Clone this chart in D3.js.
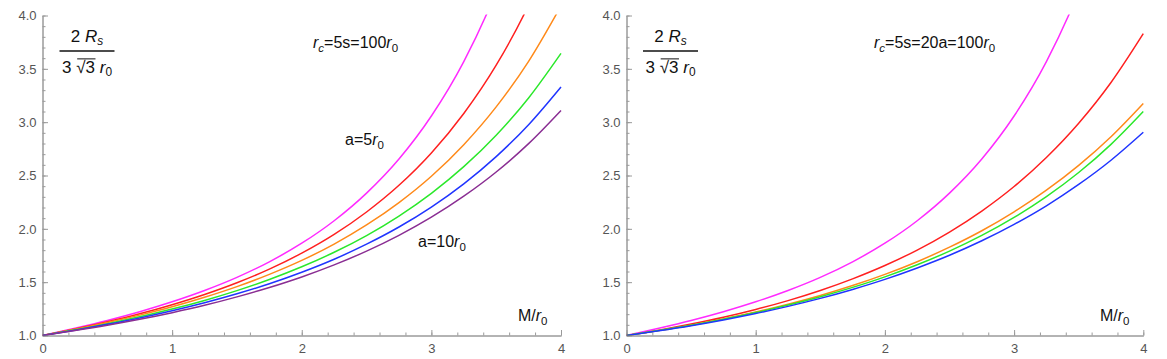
<!DOCTYPE html>
<html>
<head>
<meta charset="utf-8">
<script src="https://cdn.jsdelivr.net/npm/d3@7"></script>
<style>
  html, body { margin: 0; padding: 0; background: #fff; }
  svg { display: block; }
  text { font-family: Arial, "Liberation Sans", sans-serif; }
</style>
</head>
<body>
<svg id="chart" width="1167" height="359"></svg>
<script>
// ---------- data ----------
const massValues = [0, 0.25, 0.5, 0.75, 1, 1.25, 1.5, 1.75, 2, 2.25, 2.5, 2.75, 3, 3.25, 3.5, 3.75, 4];

// left panel: r_c = 5s = 100 r0, a from 5 r0 (magenta) to 10 r0 (purple)
const leftMagenta = [1.000, 1.068, 1.141, 1.223, 1.316, 1.422, 1.545, 1.691, 1.865, 2.076, 2.335, 2.655, 3.058, 3.568, 4.225, 5.080, 6.210];
const leftRed     = [1.000, 1.061, 1.128, 1.203, 1.288, 1.384, 1.494, 1.622, 1.772, 1.948, 2.158, 2.408, 2.711, 3.081, 3.534, 4.097, 4.800];
const leftOrange  = [1.000, 1.058, 1.121, 1.191, 1.269, 1.358, 1.458, 1.573, 1.704, 1.857, 2.036, 2.246, 2.493, 2.789, 3.143, 3.570, 4.090];
const leftGreen   = [1.000, 1.053, 1.111, 1.176, 1.248, 1.329, 1.421, 1.525, 1.644, 1.780, 1.937, 2.120, 2.333, 2.583, 2.878, 3.227, 3.645];
const leftBlue    = [1.000, 1.050, 1.105, 1.165, 1.232, 1.307, 1.391, 1.485, 1.593, 1.715, 1.856, 2.017, 2.204, 2.422, 2.677, 2.976, 3.330];
const leftPurple  = [1.000, 1.046, 1.096, 1.152, 1.214, 1.283, 1.362, 1.450, 1.549, 1.662, 1.791, 1.939, 2.109, 2.306, 2.533, 2.799, 3.110];

// right panel: r_c = 5s = 20a = 100 r0
const rightMagenta = [1.000, 1.068, 1.141, 1.223, 1.316, 1.422, 1.545, 1.691, 1.865, 2.076, 2.335, 2.655, 3.058, 3.568, 4.225, 5.080, 6.210];
const rightRed     = [1.000, 1.050, 1.107, 1.171, 1.244, 1.327, 1.422, 1.531, 1.656, 1.801, 1.970, 2.167, 2.397, 2.669, 2.990, 3.372, 3.830];
const rightOrange  = [1.000, 1.046, 1.097, 1.155, 1.220, 1.293, 1.375, 1.468, 1.573, 1.692, 1.828, 1.982, 2.159, 2.362, 2.595, 2.864, 3.176];
const rightGreen   = [1.000, 1.046, 1.097, 1.153, 1.215, 1.285, 1.363, 1.451, 1.550, 1.663, 1.791, 1.938, 2.107, 2.302, 2.528, 2.792, 3.100];
const rightBlue    = [1.000, 1.044, 1.092, 1.146, 1.206, 1.273, 1.348, 1.432, 1.526, 1.633, 1.752, 1.888, 2.042, 2.216, 2.416, 2.643, 2.905];

const xTickValues = [0, 1, 2, 3, 4];
const xTickLabels = ["0", "1", "2", "3", "4"];
const yTickValues = [1.0, 1.5, 2.0, 2.5, 3.0, 3.5, 4.0];
const yTickLabels = ["1.0", "1.5", "2.0", "2.5", "3.0", "3.5", "4.0"];

const colors = {
  magenta: "#ff2bff",
  red: "#ff2020",
  orange: "#ff8a1a",
  green: "#2be82b",
  blue: "#2035ff",
  purple: "#8a2e93"
};

// ---------- drawing ----------
const svg = d3.select("#chart");

function drawPanel(cfg) {
  const x = d3.scaleLinear().domain([0, 4]).range(cfg.xRange);
  const y = d3.scaleLinear().domain([1, 4]).range([335.5, 15.5]);
  const g = svg.append("g");

  const clipId = "clip-" + cfg.id;
  svg.append("clipPath").attr("id", clipId)
    .append("rect")
    .attr("x", cfg.xRange[0]).attr("y", y(4) - 1)
    .attr("width", cfg.xRange[1] - cfg.xRange[0] + 1)
    .attr("height", y(1) - y(4) + 1);

  const axisColor = "#9a9a9a";
  const labelColor = "#555";

  // minor ticks
  const xMinor = d3.axisBottom(x).tickValues(d3.range(0, 4.001, 0.2)).tickSizeInner(-3).tickSizeOuter(0).tickFormat("");
  const yMinor = d3.axisLeft(y).tickValues(d3.range(1, 4.001, 0.1)).tickSizeInner(-3).tickSizeOuter(0).tickFormat("");
  g.append("g").attr("transform", `translate(0,${y(1)})`).call(xMinor);
  g.append("g").attr("transform", `translate(${x(0)},0)`).call(yMinor);

  // major ticks + labels
  const xAxis = d3.axisBottom(x).tickValues(xTickValues).tickSizeInner(-5.5).tickSizeOuter(0)
    .tickPadding(6).tickFormat((d, i) => xTickLabels[i]);
  const yAxis = d3.axisLeft(y).tickValues(yTickValues).tickSizeInner(-5.5).tickSizeOuter(0)
    .tickPadding(6).tickFormat((d, i) => yTickLabels[i]);
  const gx = g.append("g").attr("transform", `translate(0,${y(1)})`).call(xAxis);
  const gy = g.append("g").attr("transform", `translate(${x(0)},0)`).call(yAxis);

  g.selectAll(".domain, .tick line").attr("stroke", axisColor).attr("stroke-width", 1);
  g.selectAll(".tick text").attr("fill", labelColor).style("font-size", "13px")
    .style("font-family", "Arial, 'Liberation Sans', sans-serif");
  gx.selectAll(".tick text").attr("dy", "0.85em");

  // curves
  const line = d3.line()
    .x((d, i) => x(massValues[i]))
    .y(d => y(d))
    .curve(d3.curveMonotoneX);
  const lg = g.append("g").attr("clip-path", `url(#${clipId})`);
  cfg.series.forEach(s => {
    lg.append("path")
      .attr("d", line(s.values))
      .attr("fill", "none")
      .attr("stroke", s.color)
      .attr("stroke-width", 1.5)
      .attr("stroke-linejoin", "round");
  });

  // fraction label 2 R_s / (3 sqrt3 r0)
  const fx = cfg.fracX;
  const fs = cfg.fracSize;
  const num = g.append("text").attr("x", fx).attr("y", 42).attr("text-anchor", "middle")
    .style("font-size", fs + "px").attr("fill", "#111");
  num.append("tspan").text("2 ");
  num.append("tspan").text("R").style("font-style", "italic");
  num.append("tspan").text("s").style("font-style", "italic").style("font-size", (fs * 0.7) + "px").attr("dy", 3);

  g.append("line").attr("x1", fx - 27.5).attr("x2", fx + 27.5).attr("y1", 51).attr("y2", 51)
    .attr("stroke", "#111").attr("stroke-width", 1.6);

  const den = g.append("text").attr("x", fx).attr("y", 73).attr("text-anchor", "middle")
    .style("font-size", fs + "px").attr("fill", "#111");
  den.append("tspan").text("3 ");
  den.append("tspan").text("\u221A");
  den.append("tspan").text("3");
  den.append("tspan").text(" r").style("font-style", "italic");
  den.append("tspan").text("0").style("font-size", (fs * 0.7) + "px").attr("dy", 3);
  // overline of the radical
  const dn = den.node();
  const sStart = dn.getStartPositionOfChar(2);
  const rEnd = dn.getEndPositionOfChar(3);
  g.append("line").attr("x1", sStart.x + 1).attr("x2", rEnd.x + 0.5)
    .attr("y1", 73 - fs * 0.83).attr("y2", 73 - fs * 0.83)
    .attr("stroke", "#111").attr("stroke-width", 1);

  // annotations
  cfg.notes.forEach(n => {
    const t = g.append("text").attr("x", n.x).attr("y", n.y).style("font-size", "16px").attr("fill", "#111");
    n.parts.forEach(p => {
      const sp = t.append("tspan").text(p.t);
      if (p.i) sp.style("font-style", "italic");
      if (p.sub) sp.attr("dy", 4).style("font-size", "11.5px");
      if (p.up) sp.attr("dy", -4);
    });
  });
}

drawPanel({
  id: "left",
  xRange: [42.5, 561],
  fracX: 87,
  fracSize: 17,
  series: [
    { values: leftMagenta, color: colors.magenta },
    { values: leftRed, color: colors.red },
    { values: leftOrange, color: colors.orange },
    { values: leftGreen, color: colors.green },
    { values: leftBlue, color: colors.blue },
    { values: leftPurple, color: colors.purple }
  ],
  notes: [
    { x: 313, y: 48, parts: [{ t: "r", i: true }, { t: "c", i: true, sub: true }, { t: "=5s=100", up: true }, { t: "r", i: true }, { t: "0", sub: true }] },
    { x: 345, y: 145, parts: [{ t: "a=5" }, { t: "r", i: true }, { t: "0", sub: true }] },
    { x: 418, y: 247, parts: [{ t: "a=10" }, { t: "r", i: true }, { t: "0", sub: true }] },
    { x: 518, y: 321, parts: [{ t: "M/" }, { t: "r", i: true }, { t: "0", sub: true }] }
  ]
});

drawPanel({
  id: "right",
  xRange: [626.5, 1143.3],
  fracX: 670.5,
  fracSize: 17,
  series: [
    { values: rightMagenta, color: colors.magenta },
    { values: rightRed, color: colors.red },
    { values: rightOrange, color: colors.orange },
    { values: rightGreen, color: colors.green },
    { values: rightBlue, color: colors.blue }
  ],
  notes: [
    { x: 874, y: 48, parts: [{ t: "r", i: true }, { t: "c", i: true, sub: true }, { t: "=5s=20a=100", up: true }, { t: "r", i: true }, { t: "0", sub: true }] },
    { x: 1100, y: 321, parts: [{ t: "M/" }, { t: "r", i: true }, { t: "0", sub: true }] }
  ]
});
</script>
</body>
</html>
